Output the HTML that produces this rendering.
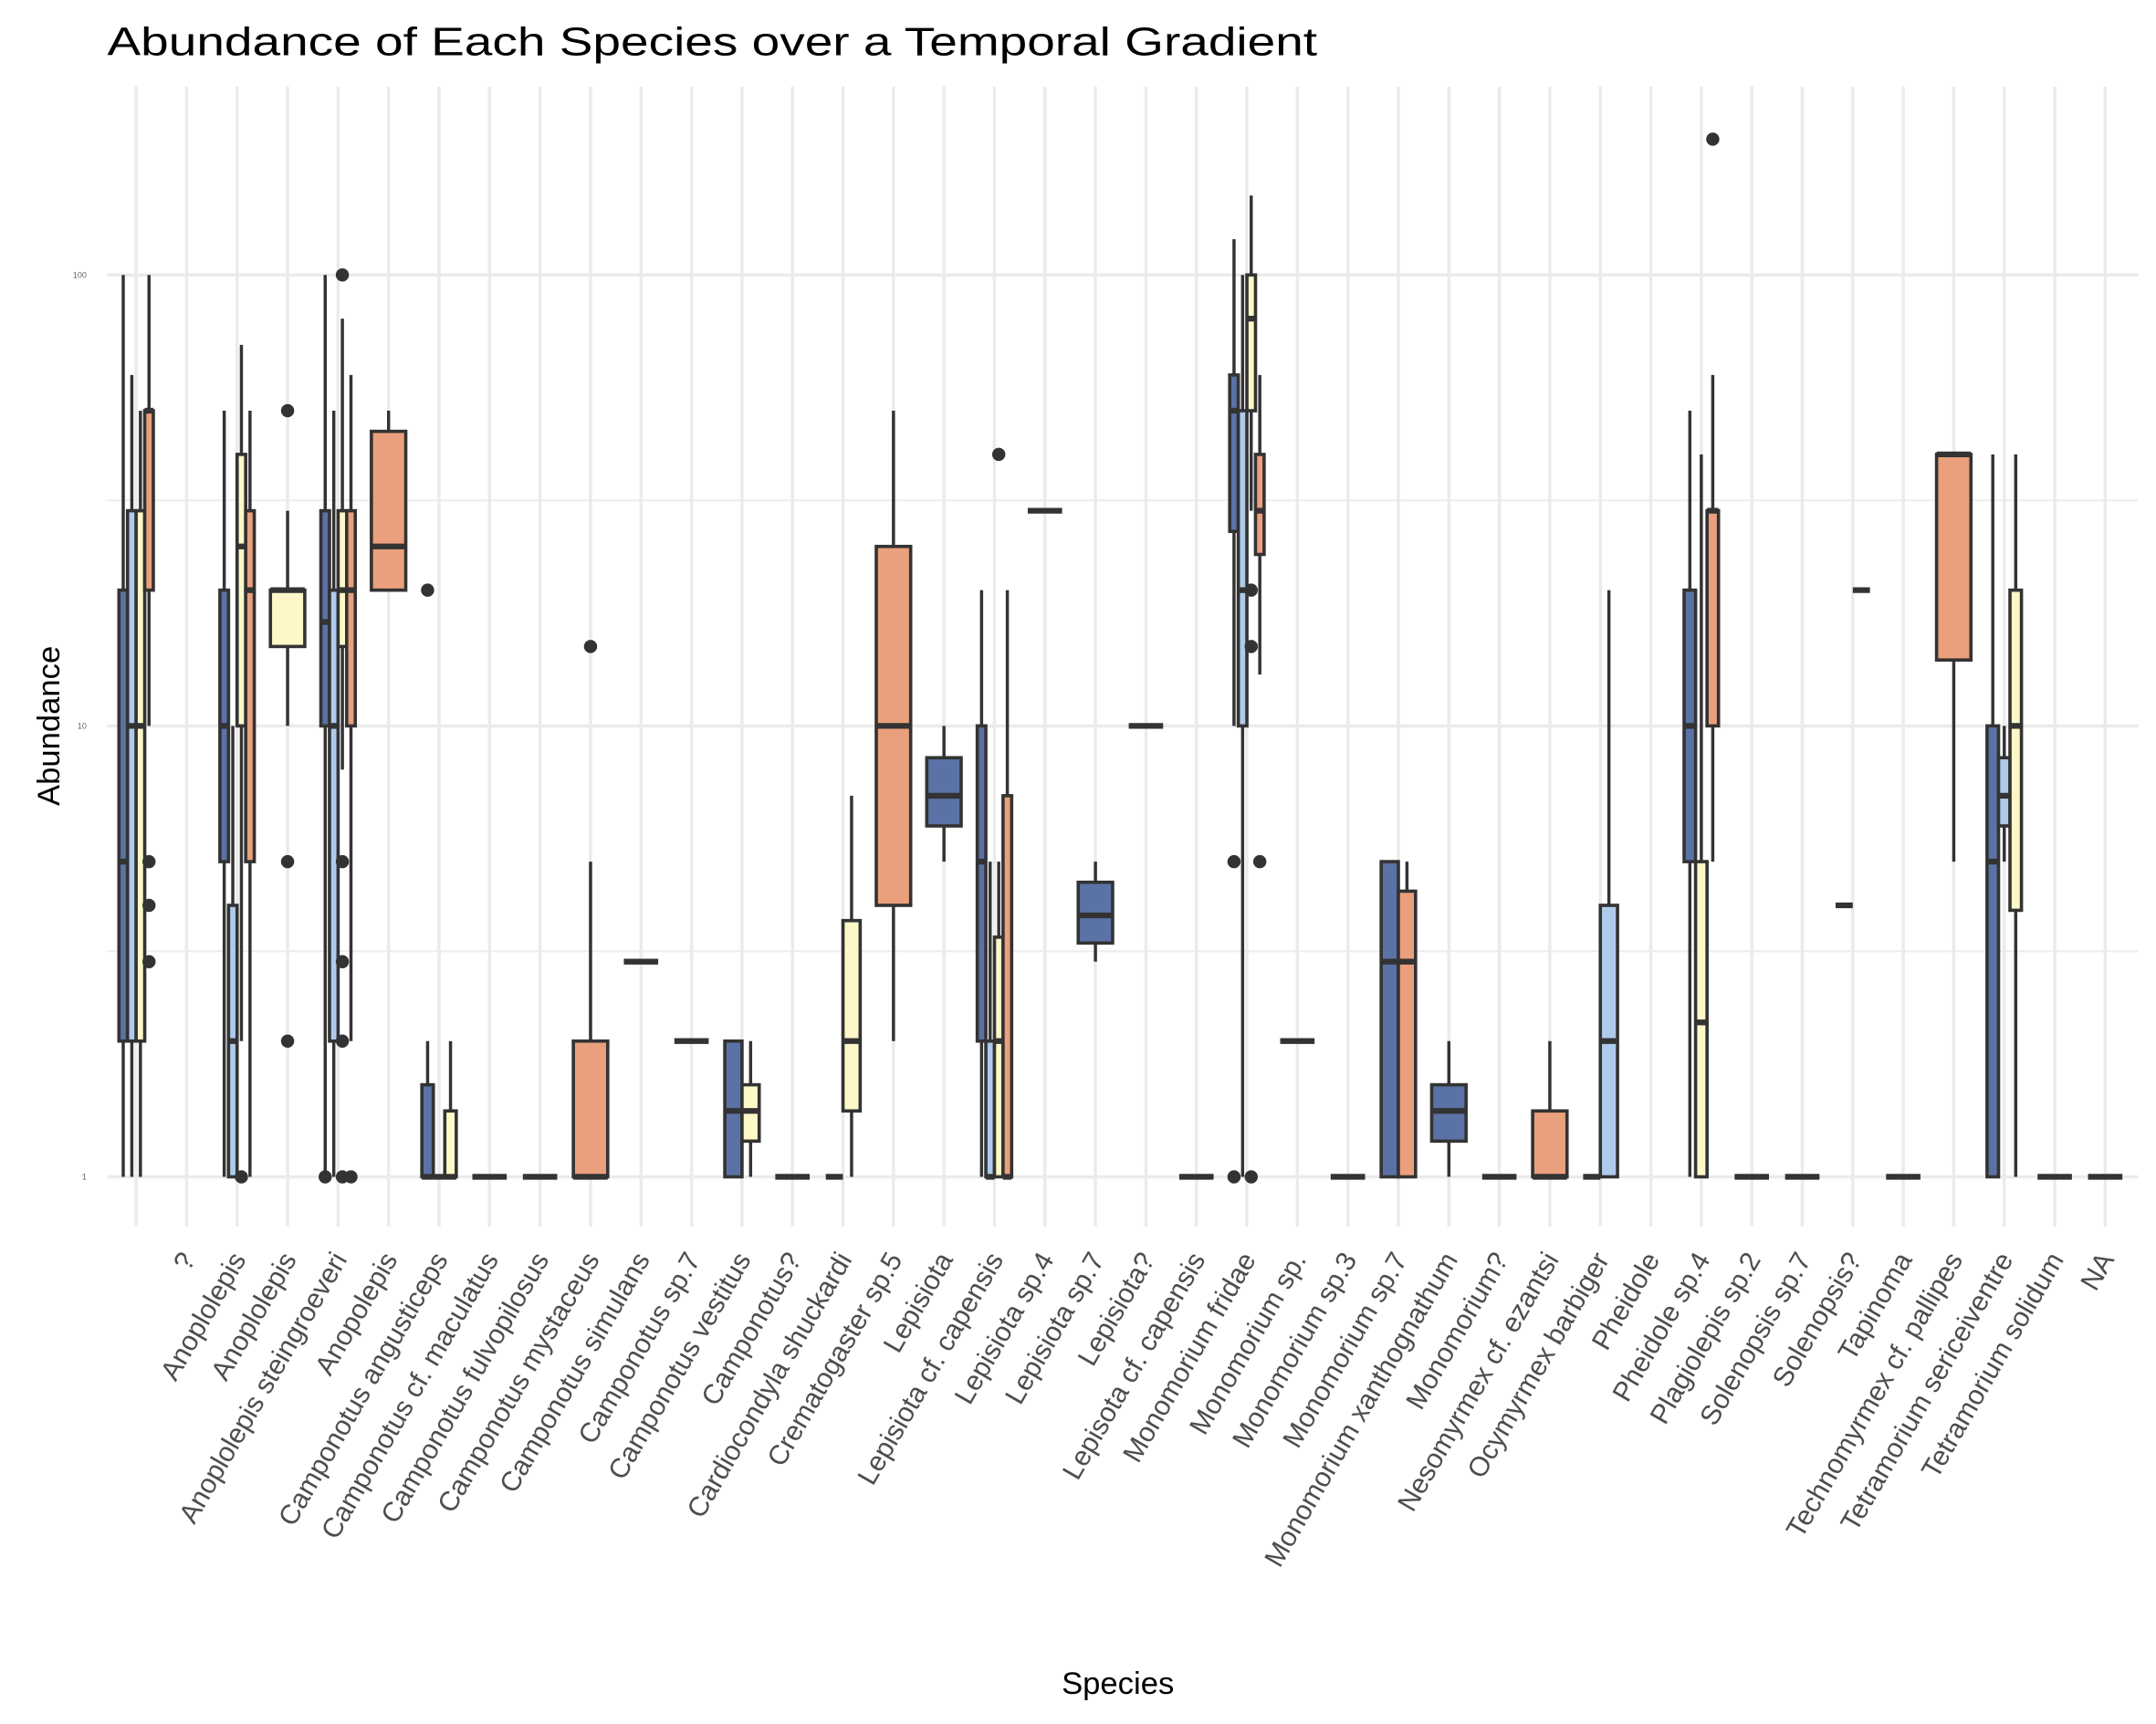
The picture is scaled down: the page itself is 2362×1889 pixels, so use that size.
<!DOCTYPE html>
<html><head><meta charset="utf-8"><style>
html,body{margin:0;padding:0;background:#fff;}
svg{display:block;}
text{font-family:"Liberation Sans",Arial,sans-serif;}
</style></head><body>
<svg id="chart" width="2362" height="1889" viewBox="0 0 1568 1254" xmlns="http://www.w3.org/2000/svg">
<rect width="1568" height="1254" fill="#fff"/>
<g id="grid"></g>
<g id="marks"></g>
<g id="xlabels"></g>
<g id="ylabels"></g>
<text x="78" y="40" font-size="29" fill="#000" textLength="880" lengthAdjust="spacingAndGlyphs">Abundance of Each Species over a Temporal Gradient</text>
<text x="813" y="1232" font-size="23" fill="#000" text-anchor="middle">Species</text>
<text transform="translate(43,528) rotate(-90)" font-size="23" fill="#000" text-anchor="middle">Abundance</text>
</svg>
<script>
const categories = ["", "?", "Anoplolepis", "Anoplolepis", "Anoplolepis steingroeveri", "Anopolepis", "Camponotus angusticeps", "Camponotus cf. maculatus", "Camponotus fulvopilosus", "Camponotus mystaceus", "Camponotus simulans", "Camponotus sp.7", "Camponotus vestitus", "Camponotus?", "Cardiocondyla shuckardi", "Crematogaster sp.5", "Lepisiota", "Lepisiota cf. capensis", "Lepisiota sp.4", "Lepisiota sp.7", "Lepisiota?", "Lepisota cf. capensis", "Monomorium fridae", "Monomorium sp.", "Monomorium sp.3", "Monomorium sp.7", "Monomorium xanthognathum", "Monomorium?", "Nesomyrmex cf. ezantsi", "Ocymyrmex barbiger", "Pheidole", "Pheidole sp.4", "Plagiolepis sp.2", "Solenopsis sp.7", "Solenopsis?", "Tapinoma", "Technomyrmex cf. pallipes", "Tetramorium sericeiventre", "Tetramorium solidum", "NA"];
const yTicks = [1, 10, 100];
const yMinor = [3.1623, 31.623, 316.23];
// box stats: category index (0-based), group (0..3), lo, q1, median, q3, hi
const boxCat = [0,0,0,0, 2,2,2,2, 3, 4,4,4,4, 5, 6,6,6, 7, 8, 9, 10, 11, 12,12, 13, 14,14, 15, 16, 17,17,17,17, 18, 19, 20, 21, 22,22,22,22, 23, 24, 25,25, 26, 27, 28, 29,29, 31,31,31, 32, 33, 34,34, 35, 36, 37,37,37, 38, 39];
const boxGrp = [0,1,2,3, 0,1,2,3, 2, 0,1,2,3, 3, 0,1,2, 0, 0, 3, 0, 0, 0,2, 0, 0,2, 3, 0, 0,1,2,3, 0, 0, 0, 0, 0,1,2,3, 0, 0, 0,3, 0, 0, 3, 0,1, 0,2,3, 0, 0, 0,1, 0, 3, 0,1,2, 0, 0];
const boxLo  = [1,1,1,10, 1,1,2,1, 10, 1,1,8,2, 20, 1,1,1, 1, 1, 1, 3, 2, 1,1, 1, 1,1, 2, 5, 1,1,1,1, 30, 3, 10, 1, 10,1,30,13, 2, 1, 1,1, 1, 1, 1, 1,1, 1,1,5, 1, 1, 4,20, 1, 5, 1,5,1, 1, 1];
const boxQ1  = [2,2,2,20, 5,1,10,5, 15, 10,2,15,10, 20, 1,1,1, 1, 1, 1, 3, 2, 1,1.2, 1, 1,1.4, 4, 6, 2,1,1,1, 30, 3.3, 10, 1, 27,10,50,24, 2, 1, 1,1, 1.2, 1, 1, 1,1, 5,1,10, 1, 1, 4,20, 1, 14, 1,6,3.9, 1, 1];
const boxMed = [5,10,10,50, 10,2,25,20, 20, 17,10,20,20, 25, 1,1,1, 1, 1, 1, 3, 2, 1.4,1.4, 1, 1,2, 10, 7, 5,1,2,1, 30, 3.8, 10, 1, 50,20,80,30, 2, 1, 3,3, 1.4, 1, 1, 1,2, 10,2.2,30, 1, 1, 4,20, 1, 40, 5,7,10, 1, 1];
const boxQ3  = [20,30,30,50, 20,4,40,30, 20, 30,20,30,30, 45, 1.6,1,1.4, 1, 1, 2, 3, 2, 2,1.6, 1, 1,3.7, 25, 8.5, 10,2,3.4,7, 30, 4.5, 10, 1, 60,50,100,40, 2, 1, 5,4.3, 1.6, 1, 1.4, 1,4, 20,5,30, 1, 1, 4,20, 1, 40, 10,8.5,20, 1, 1];
const boxHi  = [100,60,50,100, 50,10,70,50, 30, 100,50,80,60, 50, 2,1,2, 1, 1, 5, 3, 2, 2,2, 1, 1,7, 50, 10, 20,5,5,20, 30, 5, 10, 1, 120,100,150,60, 2, 1, 5,5, 2, 1, 2, 1,20, 50,40,60, 1, 1, 4,20, 1, 40, 40,10,40, 1, 1];
// outliers
const outCat = [0,0,0, 2, 3,3,3, 4, 4,4,4,4,4, 4, 6, 9, 17, 22,22, 22,22,22, 22, 31];
const outGrp = [3,3,3, 2, 2,2,2, 0, 2,2,2,2,2, 3, 0, 3, 2, 0,0, 2,2,2, 3, 3];
const outVal = [5,4,3, 1, 50,5,2, 1, 100,5,3,2,1, 1, 20, 15, 40, 5,1, 20,15,1, 5, 200];
const groupColors = ["#5b72a6", "#aecbeb", "#fef8c8", "#eaa07c"];

const NS = "http://www.w3.org/2000/svg";
const X0 = 99, DX = 36.72, W = 25;
const xScale = i => X0 + i * DX;
const yScale = v => 856 - Math.log10(v) * 328;
function mk(tag, attrs, parent) {
  const e = document.createElementNS(NS, tag);
  for (const k in attrs) e.setAttribute(k, attrs[k]);
  parent.appendChild(e);
  return e;
}
const grid = document.getElementById('grid');
const marks = document.getElementById('marks');
const xl = document.getElementById('xlabels');
const yl = document.getElementById('ylabels');
yMinor.forEach(v => {
  const y = yScale(v);
  if (y < 62) return;
  const l = mk('line', {x1: 78, x2: 1555, y1: y, y2: y, stroke: '#ececec', 'stroke-width': 1.3}, grid);
  
  
});
categories.forEach((c, i) => {
  const x = xScale(i);
  const l = mk('line', {x1: x, x2: x, y1: 63, y2: 892, stroke: '#ebebeb', 'stroke-width': 2.3}, grid);
  
  
});
yTicks.forEach(v => {
  const y = yScale(v);
  const l = mk('line', {x1: 78, x2: 1555, y1: y, y2: y, stroke: '#ebebeb', 'stroke-width': 2.3}, grid);
  
  
  const t = mk('text', {x: 63, y: y + 2, 'font-size': 6, fill: '#666', 'text-anchor': 'end'}, yl);
  t.textContent = String(v);
  
  
});
categories.forEach((c, i) => {
  if (!c) return;
  const x = xScale(i) + 7, y = 916;
  const t = mk('text', {transform: `translate(${x},${y}) rotate(-60)`, 'font-size': 20, fill: '#4d4d4d', 'text-anchor': 'end'}, xl);
  t.textContent = c;
  
  
});
const present = {};
boxCat.forEach((c, j) => { (present[c] = present[c] || []).push(boxGrp[j]); });
function boxX(c, g) {
  const gs = present[c].slice().sort();
  const n = gs.length, k = gs.indexOf(g), w = W / n;
  const left = xScale(c) - W / 2 + k * w;
  return {left, w, mid: left + w / 2};
}
boxCat.forEach((c, j) => {
  const b = boxX(c, boxGrp[j]);
  const g = mk('g', {}, marks);
  
  
  const yLo = yScale(boxLo[j]), yHi = yScale(boxHi[j]), yQ1 = yScale(boxQ1[j]), yQ3 = yScale(boxQ3[j]), yM = yScale(boxMed[j]);
  mk('line', {x1: b.mid, x2: b.mid, y1: yHi, y2: yQ3, stroke: '#333', 'stroke-width': 2.3}, g);
  mk('line', {x1: b.mid, x2: b.mid, y1: yQ1, y2: yLo, stroke: '#333', 'stroke-width': 2.3}, g);
  mk('rect', {x: b.left, y: yQ3, width: b.w, height: Math.max(0, yQ1 - yQ3), fill: groupColors[boxGrp[j]], stroke: '#333', 'stroke-width': 2.4}, g);
  mk('line', {x1: b.left, x2: b.left + b.w, y1: yM, y2: yM, stroke: '#333', 'stroke-width': 4.2}, g);
});
outCat.forEach((c, j) => {
  const b = boxX(c, outGrp[j]);
  const p = mk('circle', {cx: b.mid, cy: yScale(outVal[j]), r: 4.8, fill: '#333'}, marks);
  
  
});
</script>
</body></html>
